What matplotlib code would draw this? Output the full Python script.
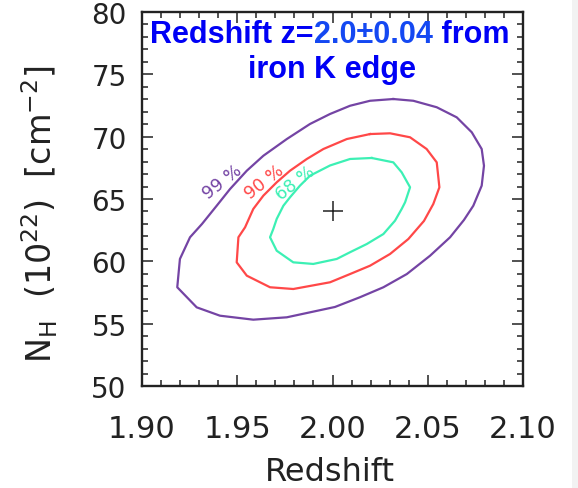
import matplotlib
matplotlib.use('Agg')
import matplotlib.pyplot as plt
from matplotlib.ticker import MultipleLocator, FormatStrFormatter
from matplotlib.patches import Rectangle

# contour outlines (redshift, N_H in 1e22 cm^-2)
c99_x = [2.0319, 2.0424, 2.0547, 2.0652, 2.0731, 2.0783, 2.0795, 2.0783, 2.0739, 2.0690,
         2.0617, 2.0512, 2.0390, 2.0267, 2.0144, 2.0013, 1.9760, 1.9584, 1.9409, 1.9287,
         1.9185, 1.9199, 1.9252, 1.9315, 1.9392, 1.9462, 1.9550, 1.9637, 1.9760, 1.9882,
         1.9987, 2.0092, 2.0197, 2.0319]
c99_y = [73.02, 72.88, 72.36, 71.55, 70.35, 69.01, 67.67, 66.07, 64.46, 63.32,
         61.93, 60.45, 58.98, 57.92, 57.12, 56.34, 55.51, 55.32, 55.64, 56.31,
         57.92, 60.19, 61.93, 63.00, 64.46, 65.80, 67.27, 68.47, 69.81, 71.02,
         71.82, 72.48, 72.88, 73.02]

c90_x = [2.0197, 2.0302, 2.0407, 2.0494, 2.0547, 2.0561, 2.0529, 2.0480, 2.0398, 2.0302,
         2.0197, 2.0092, 1.9987, 1.9794, 1.9672, 1.9550, 1.9497, 1.9506, 1.9541, 1.9584,
         1.9637, 1.9707, 1.9777, 1.9865, 1.9952, 2.0075, 2.0197]
c90_y = [70.21, 70.27, 69.95, 69.01, 67.94, 65.94, 64.60, 63.24, 61.79, 60.59,
         59.65, 58.98, 58.32, 57.78, 57.92, 58.85, 59.92, 61.93, 62.73, 64.20,
         65.27, 66.34, 67.27, 68.21, 69.01, 69.81, 70.21]

c68_x = [2.0206, 2.0319, 2.0363, 2.0407, 2.0381, 2.0363, 2.0328, 2.0267, 2.0180, 2.0092,
         2.0022, 1.9899, 1.9794, 1.9707, 1.9672, 1.9689, 1.9707, 1.9742, 1.9777, 1.9829,
         1.9882, 1.9987, 2.0092, 2.0206]
c68_y = [68.29, 67.94, 67.14, 65.94, 64.74, 64.20, 63.26, 62.19, 61.39, 60.73,
         60.19, 59.79, 59.92, 60.85, 61.93, 62.59, 63.40, 64.46, 65.14, 66.07,
         66.87, 67.69, 68.21, 68.29]

best_z = 2.0
best_nh = 64.0

labels = ['99 %', '90 %', '68 %']
label_x = [1.9423, 1.9641, 1.9806]
label_y = [66.40, 66.40, 66.34]
colors = ['#7444a4', '#ff4848', '#3cf0b4']

title_parts = ['Redshift z=', '2.0\u00b10.04', ' from']
title_colors = ['#0000f5', '#1448f2', '#0000f5']
title_line2 = 'iron K edge'

fig = plt.figure(figsize=(5.78, 4.89), dpi=100)
fig.patches.append(Rectangle((572 / 578, 0), 6 / 578, 1, transform=fig.transFigure,
                             facecolor='#f2f2f2', edgecolor='none'))
ax = fig.add_axes([0.2457, 0.2086, 0.6592, 0.7648])

for xs, ys, col in zip([c99_x, c90_x, c68_x], [c99_y, c90_y, c68_y], colors):
    ax.plot(xs, ys, color=col, lw=1.6)

for txt, lx, ly, col in zip(labels, label_x, label_y, colors):
    ax.text(lx, ly, txt, color=col, fontsize=12.5, rotation=38,
            ha='center', va='center', rotation_mode='anchor')

ax.plot([best_z], [best_nh], marker='+', color='#222222', markersize=15, mew=1.1)

ax.set_xlim(1.90, 2.10)
ax.set_ylim(50, 80)
ax.xaxis.set_major_locator(MultipleLocator(0.05))
ax.xaxis.set_minor_locator(MultipleLocator(0.01))
ax.yaxis.set_major_locator(MultipleLocator(5))
ax.yaxis.set_minor_locator(MultipleLocator(1))
ax.xaxis.set_major_formatter(FormatStrFormatter('%.2f'))
ax.tick_params(which='both', direction='in', top=True, right=True, width=1.1, color='#222222')
ax.tick_params(which='major', length=8)
ax.tick_params(which='minor', length=4)
ax.tick_params(axis='x', which='major', labelsize=22, pad=20, colors='#222222')
ax.tick_params(axis='y', which='major', labelsize=20, pad=11, colors='#222222')
for sp in ax.spines.values():
    sp.set_linewidth(1.7)
    sp.set_color('#222222')

ax.set_xlabel('Redshift', fontsize=23, color='#222222')
ax.xaxis.set_label_coords(0.493, -0.188)
ax.set_ylabel(r'N$_\mathregular{H}$  (10$^{\mathregular{22}}$)  [cm$^{\mathregular{-2}}$]',
              fontsize=24, color='#222222')
ax.yaxis.set_label_coords(-0.215, 0.463)

# first title line in three pieces, chained left to right
tfont = dict(family='Liberation Sans', fontsize=22, fontweight='bold')
prev = ax.text(0.022, 0.919, title_parts[0], transform=ax.transAxes, ha='left',
               va='baseline', color=title_colors[0], **tfont)
for part, col in zip(title_parts[1:], title_colors[1:]):
    prev = ax.annotate(part, xy=(1, 0), xycoords=prev, ha='left', va='bottom',
                       color=col, **tfont)
ax.text(0.498, 0.8254, title_line2, transform=ax.transAxes, ha='center',
        va='baseline', color=title_colors[0], **tfont)

fig.savefig('out.png', dpi=100)
